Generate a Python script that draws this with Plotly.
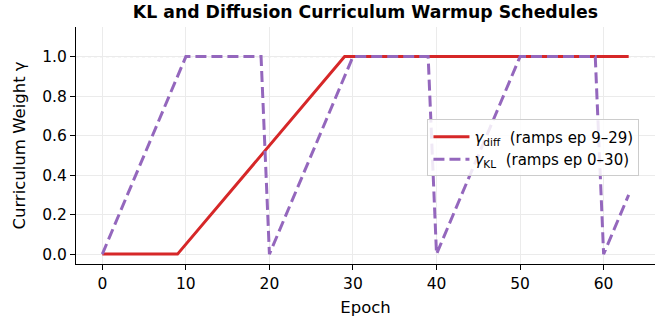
import plotly.graph_objects as go

# Breakpoints of the schedules
diff_epochs = [0, 9, 29, 63]
diff_values = [0.0, 0.0, 1.0, 1.0]

kl_epochs = [0, 10, 19, 20, 30, 39, 40, 50, 59, 60, 63]
kl_values = [0.0, 1.0, 1.0, 0.0, 1.0, 1.0, 0.0, 1.0, 1.0, 0.0, 0.3]

x_ticks = [0, 10, 20, 30, 40, 50, 60]
y_ticks = [0.0, 0.2, 0.4, 0.6, 0.8, 1.0]
y_tick_labels = ["0.0", "0.2", "0.4", "0.6", "0.8", "1.0"]

font_family = "DejaVu Sans"

fig = go.Figure()
fig.add_trace(go.Scatter(
    x=diff_epochs, y=diff_values, mode="lines",
    line=dict(color="#d62728", width=3),
    name="<i>γ</i><sub>diff</sub>&nbsp;&nbsp;(ramps ep 9–29)",
))
fig.add_trace(go.Scatter(
    x=kl_epochs, y=kl_values, mode="lines",
    line=dict(color="#9467bd", width=3, dash="11px,5px"),
    name="<i>γ</i><sub>KL</sub>&nbsp;&nbsp;(ramps ep 0–30)",
))

fig.add_shape(type="line", xref="paper", yref="y", x0=0, x1=1, y0=1, y1=1,
              line=dict(color="#999999", width=0.8, dash="dot"), layer="below")

fig.update_layout(
    width=662, height=320,
    margin=dict(l=76, r=6.5, t=27.4, b=56.2),
    paper_bgcolor="white", plot_bgcolor="white",
    font=dict(family=font_family, size=15, color="black"),
    title=dict(text="<b>KL and Diffusion Curriculum Warmup Schedules</b>",
               x=0.552, xanchor="center", y=0.962, yanchor="middle",
               font=dict(size=17.3)),
    showlegend=True,
    legend=dict(x=0.607, y=0.61, xanchor="left", yanchor="top",
                bgcolor="rgba(255,255,255,0.85)", bordercolor="#cccccc", borderwidth=1,
                font=dict(size=15), tracegroupgap=0, itemwidth=36),
)
fig.update_xaxes(
    range=[-3.15, 66.15], tickvals=x_ticks, ticks="outside", ticklen=5,
    tickcolor="black", showline=True, linecolor="black", linewidth=1.2,
    showgrid=True, gridcolor="#ebebeb", gridwidth=1, zeroline=False,
    tickfont=dict(size=15.5), automargin=False,
    title=dict(text="Epoch", standoff=9, font=dict(size=16.5)),
)
fig.update_yaxes(
    range=[-0.05, 1.15], tickvals=y_ticks, ticktext=y_tick_labels, ticks="outside", ticklen=5,
    tickcolor="black", showline=True, linecolor="black", linewidth=1.2,
    showgrid=True, gridcolor="#ebebeb", gridwidth=1, zeroline=False,
    tickfont=dict(size=15.5), automargin=False,
    title=dict(text="Curriculum Weight γ", standoff=12, font=dict(size=16.5)),
)

fig.write_html("out.html", config={"displayModeBar": False},
               post_script="document.body.style.margin='0';")
